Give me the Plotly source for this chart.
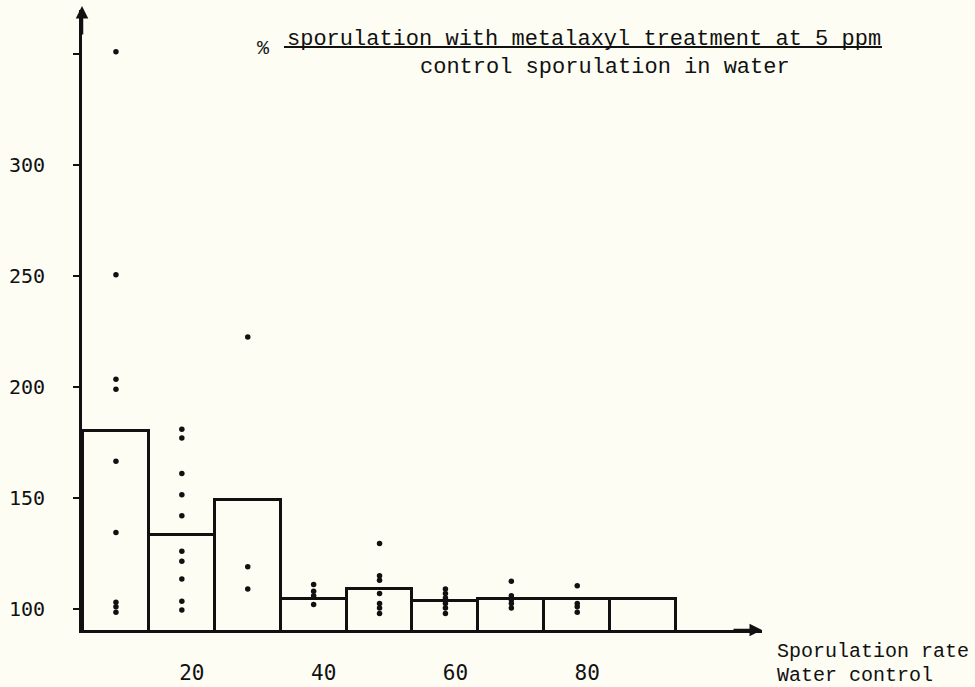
import plotly.graph_objects as go

# ---- data ----
bar_centers = [10, 20, 30, 40, 50, 60, 70, 80, 90]
bar_values = [180, 133.5, 149, 104.5, 109, 103.4, 104.5, 104.5, 104.5]
dot_values = [
    [351, 250.5, 203.5, 199, 166.5, 134.5, 103, 101, 98.5],
    [181, 177, 161, 151.5, 142, 126, 121.5, 113.5, 103.5, 99.5],
    [222.5, 119, 109],
    [111, 108, 106, 102],
    [129.5, 115, 113, 107, 102.5, 100.5, 98],
    [109, 107, 105, 102.5, 100.5, 98],
    [112.5, 106, 104, 102.5, 100.5],
    [110.5, 102.5, 101, 98.5],
    [],
]
x_tickvals = [20, 40, 60, 80]
x_ticktext = ["20", "40", "60", "80"]
y_tickvals = [100, 150, 200, 250, 300, 350]
y_ticktext = ["100", "150", "200", "250", "300", ""]

BG = "#fdfdf4"
INK = "#111111"
MONO = "Liberation Mono, Courier New, monospace"
SANSMONO = "DejaVu Sans Mono, monospace"

W, H = 975, 687
L, R, T, B = 82, 762, 10, 630  # plot area in pixels


def px(x):
    return (x - L) / (R - L)


def py(y):
    return (B - y) / (B - T)


dot_x = []
dot_y = []
for c, vals in zip(bar_centers, dot_values):
    for v in vals:
        dot_x.append(c)
        dot_y.append(v)

fig = go.Figure()
fig.add_trace(go.Bar(
    x=bar_centers, y=bar_values, width=10,
    marker=dict(color="rgba(0,0,0,0)", line=dict(color=INK, width=3)),
    showlegend=False, hoverinfo="skip",
))
fig.add_trace(go.Scatter(
    x=dot_x, y=dot_y, mode="markers",
    marker=dict(color=INK, size=5.5),
    showlegend=False, cliponaxis=False,
))

fig.update_layout(
    width=W, height=H,
    margin=dict(l=L, r=W - R, t=T, b=H - B, pad=0, autoexpand=False),
    paper_bgcolor=BG, plot_bgcolor=BG,
    bargap=0,
    xaxis=dict(
        range=[4.85, 4.85 + (R - L) / 6.59],
        automargin=False,
        showline=True, linecolor=INK, linewidth=3,
        showgrid=False, zeroline=False,
        tickvals=x_tickvals, ticktext=x_ticktext,
        ticks="", ticklabelstandoff=22, ticklabelshift=10,
        tickfont=dict(family=SANSMONO, size=21, color=INK),
    ),
    yaxis=dict(
        range=[90.54, 369.8],
        automargin=False,
        showline=True, linecolor=INK, linewidth=3,
        showgrid=False, zeroline=False,
        tickvals=y_tickvals, ticktext=y_ticktext,
        ticks="outside", ticklen=6, tickwidth=2, tickcolor=INK,
        ticklabelstandoff=24,
        tickfont=dict(family=SANSMONO, size=20, color=INK),
    ),
)

annotations = [
    # axis arrowheads
    dict(x=1.0, y=0, xref="paper", yref="paper", ax=-30, ay=0, text="",
         showarrow=True, arrowhead=2, arrowsize=1, arrowwidth=2.5, arrowcolor=INK),
    dict(x=0, y=py(6), xref="paper", yref="paper", ax=0, ay=30, text="",
         showarrow=True, arrowhead=2, arrowsize=1, arrowwidth=2.5, arrowcolor=INK),
    # title fraction
    dict(x=px(584), y=py(40), xref="paper", yref="paper",
         text="sporulation with metalaxyl treatment at 5 ppm", showarrow=False,
         font=dict(family=MONO, size=22, color=INK), xanchor="center", yanchor="middle"),
    dict(x=px(605), y=py(67), xref="paper", yref="paper",
         text="control sporulation in water", showarrow=False,
         font=dict(family=MONO, size=22, color=INK), xanchor="center", yanchor="middle"),
    dict(x=px(263), y=py(49), xref="paper", yref="paper",
         text="%", showarrow=False,
         font=dict(family=MONO, size=20, color=INK), xanchor="center", yanchor="middle"),
    # x-axis caption
    dict(x=px(775), y=py(651), xref="paper", yref="paper",
         text="Sporulation rate", showarrow=False,
         font=dict(family=MONO, size=20, color=INK), xanchor="left", yanchor="middle"),
    dict(x=px(775), y=py(675), xref="paper", yref="paper",
         text="Water control", showarrow=False,
         font=dict(family=MONO, size=20, color=INK), xanchor="left", yanchor="middle"),
]
fig.update_layout(annotations=annotations)

fig.add_shape(type="line", xref="paper", yref="paper",
              x0=px(284), x1=px(882), y0=py(47), y1=py(47),
              line=dict(color=INK, width=2))

fig.write_html("out.html")
